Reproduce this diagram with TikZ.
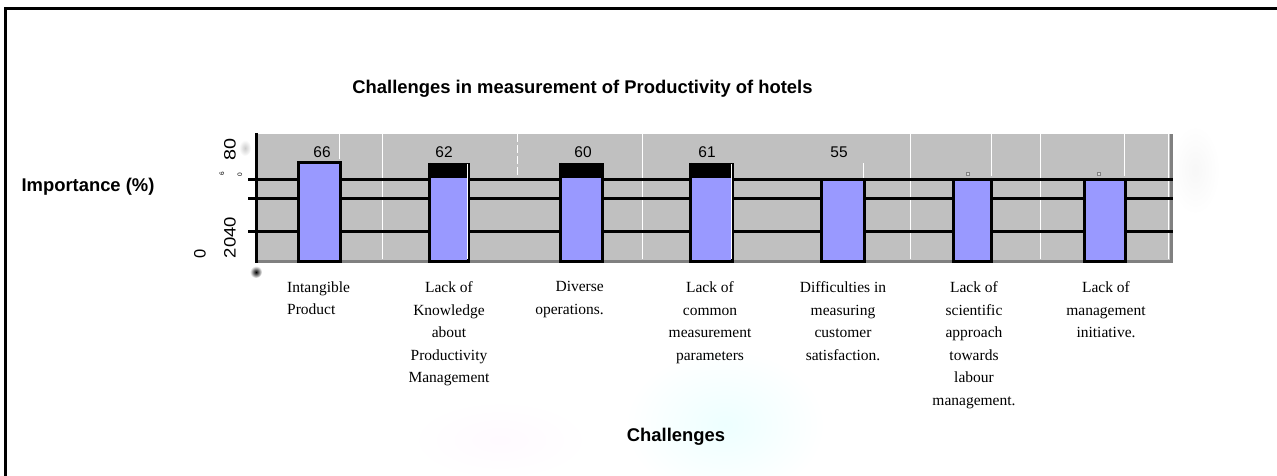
\documentclass[tikz,border=0pt]{standalone}
\usepackage{fontspec}
\setmainfont{Liberation Serif}
\setsansfont{Liberation Sans}
\definecolor{barblue}{HTML}{9999FF}
\definecolor{plotgray}{HTML}{C0C0C0}
\definecolor{edgegray}{HTML}{808080}
\tikzset{
  bigtxt/.style={font=\sffamily\bfseries\fontsize{18.4}{22}\selectfont, inner sep=0pt},
  cattxt/.style={font=\rmfamily\fontsize{15.5}{22.5}\selectfont, inner sep=0pt, align=center, anchor=north},
  valtxt/.style={font=\sffamily\fontsize{15.5}{18}\selectfont, inner sep=0pt},
  ticktxt/.style={font=\sffamily\fontsize{16.5}{18}\selectfont, inner sep=0pt, rotate=90},
  tinytxt/.style={font=\sffamily\fontsize{6.5}{7}\selectfont, inner sep=0pt, rotate=90},
  gridline/.style={line width=3pt, black},
  barfill/.style={fill=barblue},
  baredge/.style={line width=3pt, black},
  whiteline/.style={white, line width=1pt},
}
\begin{document}
\begin{tikzpicture}[x=1pt,y=-1pt]
\useasboundingbox (0,0) rectangle (1277,476);
% faint watermark blurs
\shade[inner color=cyan!7, outer color=white] (725,425) ellipse [x radius=100, y radius=75];
\shade[inner color=magenta!2, outer color=white] (500,440) ellipse [x radius=90, y radius=40];
\shade[inner color=black!3, outer color=white] (1195,170) ellipse [x radius=25, y radius=45];
\shade[inner color=black!20, outer color=white] (245,148) ellipse [x radius=6, y radius=8];
% frame (top and left)
\draw[line width=3pt] (5.5,476) -- (5.5,8.5) -- (1277,8.5);
% title and axis titles
\node[bigtxt] (title) at (582.5,89) {Challenges in measurement of Productivity of hotels};
\node[bigtxt] (ytitle) at (88,187) {Importance (\%)};
\node[bigtxt] (xtitle) at (676,437) {Challenges};
% plot area
\fill[plotgray] (256,134) rectangle (1173,263);
\fill[edgegray] (256,259.5) rectangle (1173,263);
\fill[edgegray] (1170,134) rectangle (1173,263);
% white grid artefacts
\foreach \gx in {382,642,910,1040,1168.5}
  \draw[whiteline] (\gx,134) -- (\gx,259);
\draw[whiteline] (339,134) -- (339,159);
\draw[whiteline, dash pattern=on 8pt off 3pt] (517,134) -- (517,176);
\draw[whiteline] (863,163) -- (863,259);
\draw[whiteline] (1124,134) -- (1124,176);
\draw[whiteline] (991,134) -- (991,176);
% horizontal lines and axis
\foreach \gy in {179,198,231}
  \draw[gridline] (248,\gy) -- (1173,\gy);
\draw[gridline] (256,133) -- (256,263);
% bar 1
\fill[barfill] (297,161) rectangle (342,263);
\draw[baredge] (298.5,162.5) rectangle (340.5,261.5);
% bars 2-4 with black caps
\foreach \l/\r in {428/470,559/604,689/734}{
  \fill[black] (\l,163) rectangle (\r,178);
  \fill[barfill] (\l,178) rectangle (\r,263);
  \draw[baredge] (\l+1.5,163) -- (\l+1.5,261.5) -- (\r-1.5,261.5) -- (\r-1.5,163);
}
% bars 5-7
\foreach \l/\r in {820/866,952/993,1083/1127}{
  \fill[barfill] (\l,180.5) rectangle (\r,263);
  \draw[baredge] (\l+1.5,179) -- (\l+1.5,261.5) -- (\r-1.5,261.5) -- (\r-1.5,179);
}
\draw[white, line width=1pt] (467.5,164) -- (467.5,259);
\draw[white, line width=1pt] (731.5,164) -- (731.5,259);
% small marks
\foreach \mx in {968,1099}
  \draw[edgegray, fill=plotgray!60, line width=0.6pt] (\mx-1.5,172.5) rectangle (\mx+1.5,175.5);
% value labels
\node[valtxt] (v1) at (322,152) {66};
\node[valtxt] (v2) at (444,152) {62};
\node[valtxt] (v3) at (583,152) {60};
\node[valtxt] (v4) at (707,152) {61};
\node[valtxt] (v5) at (839,152) {55};
% y tick labels
\node[ticktxt] (t80) at (230,149) {\scalebox{1.2}[1]{80}};
\node[ticktxt] (t2040) at (230,237.5) {\scalebox{1.12}[1]{2040}};
\node[ticktxt] (t0) at (200,254) {0};
\node[tinytxt] (t6) at (222,174) {6};
\node[tinytxt] (t0b) at (240,175) {0};
% blurred dot
\shade[inner color=black, outer color=white] (256,272) circle (6);
% category labels
\node[cattxt, align=left, anchor=north west] (c1) at (287,281.5) {Intangible\\Product};
\node[cattxt] (c2) at (449,281.5) {Lack of\\Knowledge\\about\\Productivity\\Management};
\node[cattxt, align=right, anchor=north east] (c3) at (604,281.5) {Diverse\\operations.};
\node[cattxt] (c4) at (710,281.5) {Lack of\\common\\measurement\\parameters};
\node[cattxt] (c5) at (843,281.5) {Difficulties in\\measuring\\customer\\satisfaction.};
\node[cattxt] (c6) at (974,281.5) {Lack of\\scientific\\approach\\towards\\labour\\management.};
\node[cattxt] (c7) at (1106,281.5) {Lack of\\management\\initiative.};
\end{tikzpicture}
\end{document}
